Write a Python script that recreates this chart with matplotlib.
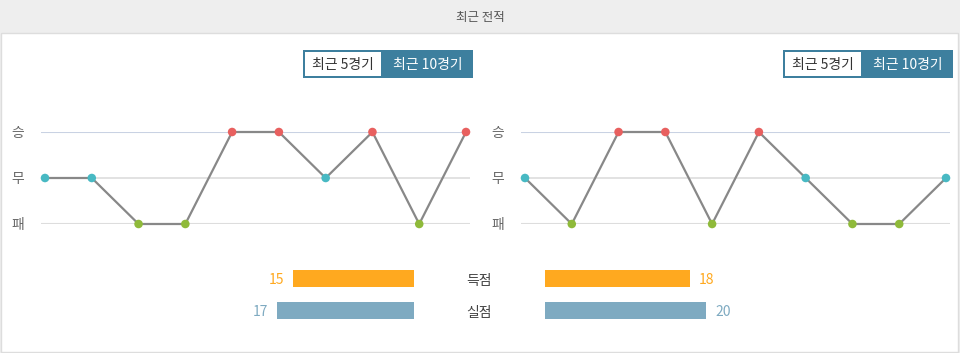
import matplotlib
matplotlib.use("Agg")
import matplotlib.pyplot as plt
from matplotlib.patches import Rectangle

plt.rcParams['font.family'] = ['Noto Sans CJK KR', 'DejaVu Sans']

# ---- data ----
title = "최근 전적"
buttons = ["최근 5경기", "최근 10경기"]
result_labels = ["패", "무", "승"]          # y = 0, 1, 2
left_results = ["무", "무", "패", "패", "승", "승", "무", "승", "패", "승"]
right_results = ["무", "패", "승", "승", "패", "승", "무", "패", "패", "무"]
bar_labels = ["득점", "실점"]
left_goals = [15, 17]
right_goals = [18, 20]

W, H = 960, 353
fig = plt.figure(figsize=(W / 100, H / 100), dpi=100)
fig.patch.set_facecolor("#eeeeee")

def fx(px):
    return px / W

def fy(py):
    return 1 - py / H

def add_axes_px(x0, y0, x1, y1):
    ax = fig.add_axes([fx(x0), fy(y1), fx(x1) - fx(x0), fy(y0) - fy(y1)])
    ax.set_zorder(10)
    return ax

# white panel
fig.patches.append(Rectangle((fx(1), fy(352)), fx(958) - fx(1), fy(33) - fy(352),
                             transform=fig.transFigure, facecolor="white",
                             edgecolor="#dddddd", lw=1, zorder=0))
fig.text(0.5, fy(17), title, ha="center", va="center", fontsize=9, color="#555555",
         fontweight="medium")

colors = {"승": "#e8605f", "무": "#48b9c3", "패": "#8fba3a"}
ymap = {"패": 0, "무": 1, "승": 2}

def buttons_at(x0):
    y0, y1 = 50, 78
    xm = x0 + 80
    x1 = x0 + 170
    fig.patches.append(Rectangle((fx(x0), fy(y1)), fx(x1) - fx(x0), fy(y0) - fy(y1),
                                 transform=fig.transFigure, facecolor="#3d7f9e",
                                 edgecolor="none", zorder=1))
    fig.patches.append(Rectangle((fx(x0 + 2), fy(y1 - 2)), fx(xm - 2) - fx(x0 + 2),
                                 fy(y0 + 2) - fy(y1 - 2),
                                 transform=fig.transFigure, facecolor="white",
                                 edgecolor="none", zorder=2))
    fig.text(fx((x0 + xm) / 2), fy(65), buttons[0], ha="center", va="center",
             fontsize=10, color="#333333", zorder=3)
    fig.text(fx((xm + x1) / 2), fy(65), buttons[1], ha="center", va="center",
             fontsize=10, color="white", fontweight="medium", zorder=3)

def line_chart(x0, x1, first, last, results):
    ax = add_axes_px(x0, 132, x1, 224)
    n = len(results)
    unit = (last - first) / (n - 1)
    ax.set_xlim(-(first - x0) / unit, (n - 1) + (x1 - last) / unit)
    ax.set_ylim(0, 2)
    ax.set_facecolor("none")
    for s in ax.spines.values():
        s.set_visible(False)
    ax.axhline(2, color="#c9d2e3", lw=1.5, zorder=1)
    ax.axhline(1, color="#dddddd", lw=1.2, zorder=1)
    ax.axhline(0, color="#dddddd", lw=1.5, zorder=1)
    xs = list(range(n))
    ys = [ymap[r] for r in results]
    ax.plot(xs, ys, color="#888888", lw=1.6, zorder=2, clip_on=False)
    ax.scatter(xs, ys, c=[colors[r] for r in results], s=38, zorder=3,
               clip_on=False, linewidths=0)
    ax.set_xticks([])
    ax.set_yticks([0, 1, 2])
    ax.set_yticklabels(result_labels, fontsize=10, color="#666666")
    ax.tick_params(axis="y", length=0, pad=12)

buttons_at(303)
buttons_at(783)
line_chart(41, 470, 45, 466, left_results)
line_chart(521, 950, 525, 946, right_results)

# bars
ppu = 8.06
row_y = [278.5, 310.5]
bar_h = 17
bar_colors = ["#ffa91f", "#7eaac1"]

axl = add_axes_px(240, 262, 414, 327)
axl.set_xlim(174 / ppu, 0)
axr = add_axes_px(545, 262, 740, 327)
axr.set_xlim(0, 195 / ppu)
for ax in (axl, axr):
    ax.set_ylim(327, 262)
    ax.axis("off")
    ax.set_facecolor("none")

axl.barh(row_y, left_goals, height=bar_h, color=bar_colors)
axr.barh(row_y, right_goals, height=bar_h, color=bar_colors)
for i in range(2):
    axl.text(left_goals[i] + 1.1, row_y[i] + 1.5, str(left_goals[i]), ha="right", va="center",
             fontsize=10, color=bar_colors[i])
    axr.text(right_goals[i] + 1.1, row_y[i] + 1.5, str(right_goals[i]), ha="left", va="center",
             fontsize=10, color=bar_colors[i])
    fig.text(fx(479), fy(row_y[i] + 2.5), bar_labels[i], ha="center", va="center",
             fontsize=10, color="#444444", fontweight="medium", zorder=11)

fig.savefig("out.png", dpi=100, facecolor=fig.get_facecolor())
